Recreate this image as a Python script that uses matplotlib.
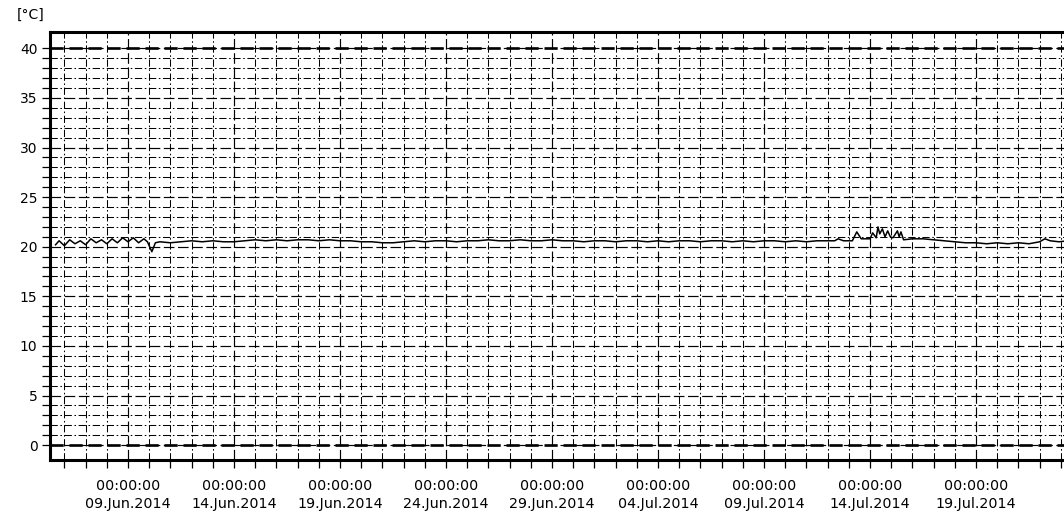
"""Temperature logger chart: single channel, June/July 2014, with limit lines."""

from datetime import datetime, timedelta

import matplotlib
matplotlib.use("Agg")
import matplotlib.pyplot as plt
import matplotlib.dates as mdates
import matplotlib.ticker as mticker

plt.rcParams["font.family"] = ["DejaVu Sans"]

# ── Data (hours after 05.Jun.2014 00:00, temperature in °C) ─────────────────
START = datetime(2014, 6, 5)

t_hours = [
    # noisy start
    14, 18, 24, 30, 36, 42, 48, 54, 60, 66, 72, 78, 84, 90, 96, 102, 108,
    114, 118, 123, 127,
    # long stable stretch
    132, 144, 156, 168, 180, 192, 204, 216, 228, 240,
    252, 264, 276, 288, 300, 312, 324, 336, 348, 360,
    372, 384, 396, 408, 420, 432, 444, 456, 468, 480,
    492, 504, 516, 528, 540, 552, 564, 576, 588, 600,
    612, 624, 636, 648, 660, 672, 684, 696, 708, 720,
    732, 744, 756, 768, 780, 792, 804, 816, 828, 840,
    852, 864, 876, 888,
    # spikes around 14.Jul
    896, 900, 906, 916, 921, 926, 936, 939, 943, 945, 947, 950, 953, 956,
    959, 962, 967, 969, 971, 974,
    # tail
    984, 996, 1008, 1020, 1032, 1044, 1056, 1068, 1080, 1092, 1104, 1116,
    1128, 1134, 1140, 1150, 1160,
]

temp_c = [
    20.2, 20.6, 20.1, 20.7, 20.3, 20.6, 20.2, 20.8, 20.4, 20.7, 20.3, 20.8,
    20.4, 20.9, 20.5, 20.9, 20.4, 20.8, 20.5, 19.5, 20.4,
    20.5, 20.4, 20.5, 20.6, 20.5, 20.6, 20.5, 20.5, 20.6, 20.7,
    20.6, 20.7, 20.6, 20.7, 20.7, 20.6, 20.7, 20.6, 20.6, 20.5,
    20.5, 20.4, 20.4, 20.5, 20.6, 20.5, 20.6, 20.6, 20.5, 20.6,
    20.6, 20.7, 20.6, 20.6, 20.7, 20.6, 20.6, 20.7, 20.6, 20.6,
    20.5, 20.6, 20.6, 20.5, 20.6, 20.6, 20.5, 20.6, 20.5, 20.6,
    20.6, 20.5, 20.6, 20.6, 20.5, 20.6, 20.5, 20.6, 20.6, 20.5,
    20.6, 20.5, 20.6, 20.6,
    20.6, 20.8, 20.6, 20.6, 21.5, 20.8, 20.8, 21.4, 20.9, 22.0, 21.3, 21.8,
    21.0, 21.6, 21.0, 20.9, 21.6, 21.0, 21.5, 20.7,
    20.8, 20.8, 20.7, 20.6, 20.5, 20.4, 20.4, 20.3, 20.4, 20.3, 20.4, 20.3,
    20.5, 20.8, 20.6, 20.5, 20.6,
]

limit_high = 40.0
limit_low = 0.0

label_dates = [datetime(2014, 6, 9) + timedelta(days=5 * k) for k in range(9)]
y_major = list(range(0, 41, 5))
y_minor = list(range(0, 41, 1))

x_left = START + timedelta(hours=7.7)
x_right = START + timedelta(hours=1155.6)

# ── Figure ──────────────────────────────────────────────────────────────────
fig = plt.figure(figsize=(10.64, 5.12), dpi=100)
ax = fig.add_axes([50 / 1064, 52 / 512, 1014 / 1064, 428.5 / 512])

times = [START + timedelta(hours=h) for h in t_hours]

ax.set_xlim(x_left, x_right)
ax.set_ylim(-1.5, 41.7)

# grid
ax.xaxis.set_major_locator(mticker.FixedLocator(mdates.date2num(label_dates)))
ax.xaxis.set_minor_locator(mdates.DayLocator())
ax.xaxis.set_major_formatter(mdates.DateFormatter("%H:%M:%S\n%d.%b.%Y"))
ax.yaxis.set_major_locator(mticker.FixedLocator(y_major))
ax.yaxis.set_minor_locator(mticker.FixedLocator(y_minor))

ax.grid(which="minor", color="black", linewidth=0.75,
        linestyle=(0, (7, 2.5, 1.5, 2.5)), zorder=1)
ax.grid(which="major", color="black", linewidth=0.85,
        linestyle=(0, (9, 3)), zorder=1)

# limit lines
ax.axhline(limit_high, color="black", linewidth=1.9,
           linestyle=(0, (5, 2.2)), zorder=2)
ax.axhline(limit_low, color="black", linewidth=1.9,
           linestyle=(0, (5, 2.2)), zorder=2)

# measurement
ax.plot(times, temp_c, color="black", linewidth=1.1, zorder=3)

# spines / ticks
for side in ("left", "top", "bottom"):
    ax.spines[side].set_linewidth(2.2)
ax.spines["right"].set_visible(False)

ax.tick_params(axis="both", which="both", direction="out", length=6,
               width=0.9, color="black")
ax.tick_params(axis="y", which="major", labelsize=10, pad=3)
ax.tick_params(axis="x", which="major", labelsize=10.3, pad=8)
for lbl in ax.get_xticklabels():
    lbl.set_linespacing(1.35)

fig.text(17 / 1064, 1 - 15 / 512, "[°C]", ha="left", va="center", fontsize=10)

fig.savefig("out.png", dpi=100, facecolor="white")
plt.close(fig)
